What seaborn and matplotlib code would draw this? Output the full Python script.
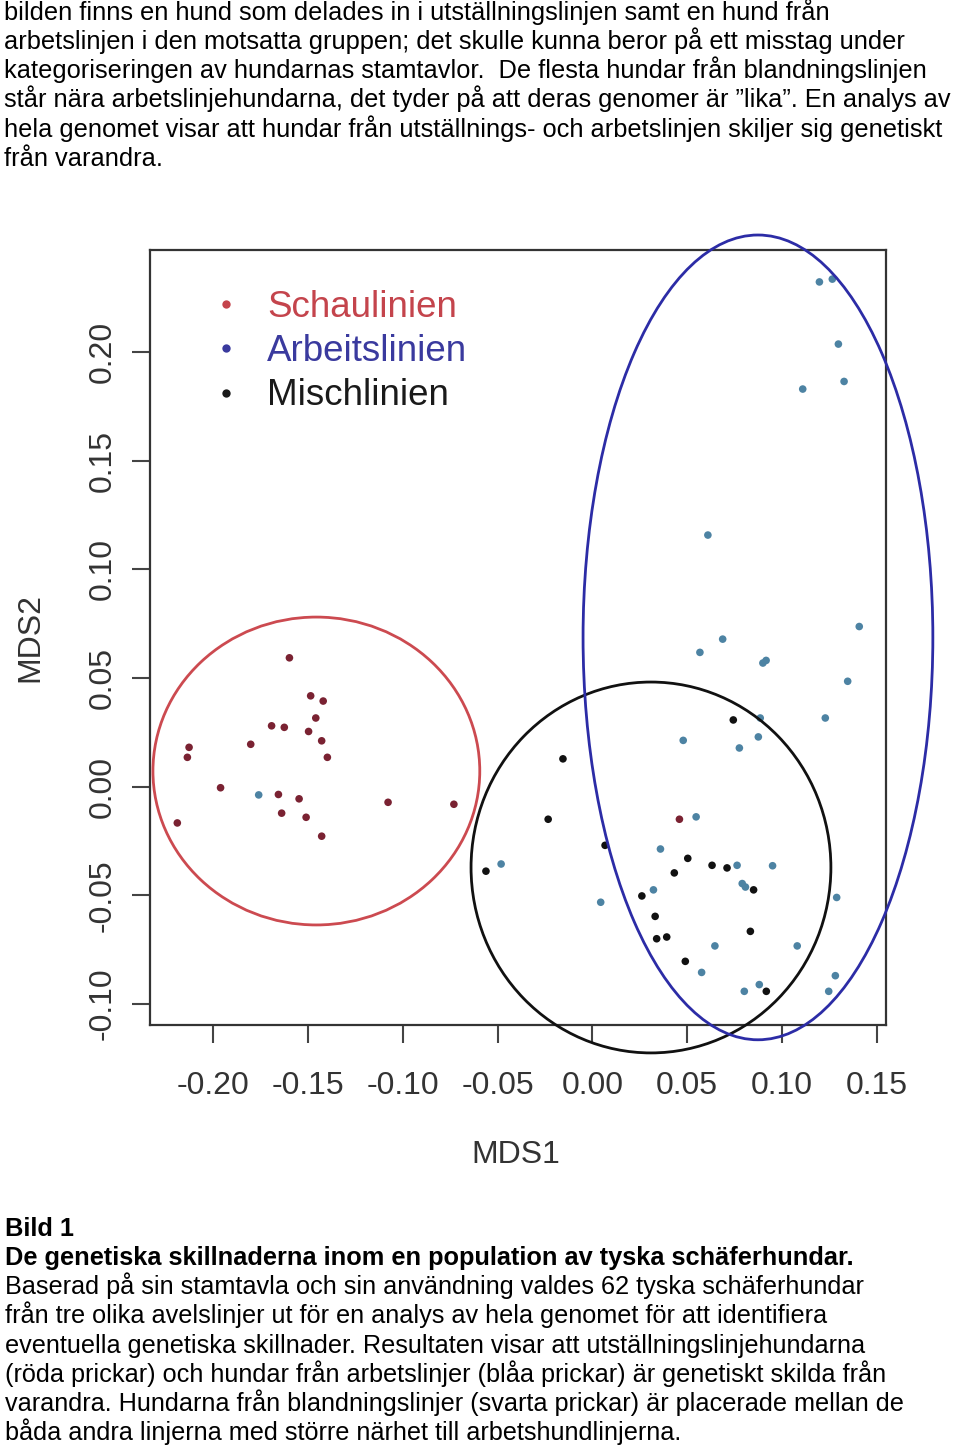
import matplotlib
matplotlib.use("Agg")
import matplotlib.pyplot as plt
import seaborn as sns
import pandas as pd
from matplotlib.patches import Ellipse
from matplotlib.lines import Line2D
from matplotlib import font_manager

# ---------------- data ----------------
groups = ["Schaulinien", "Arbeitslinien", "Mischlinien"]

schau_x = [-0.1597, -0.1485, -0.1419, -0.1458, -0.1691, -0.1624, -0.1496, -0.1427,
           -0.1801, -0.2126, -0.2135, -0.1397, -0.1960, -0.1655, -0.1546, -0.1077,
           -0.0730, -0.1638, -0.1509, -0.2188, -0.1427, 0.0459]
schau_y = [0.0593, 0.0418, 0.0394, 0.0316, 0.0280, 0.0273, 0.0254, 0.0211,
           0.0195, 0.0181, 0.0135, 0.0135, -0.0005, -0.0036, -0.0056, -0.0072,
           -0.0081, -0.0122, -0.0141, -0.0167, -0.0228, -0.0150]

arbeit_x = [-0.1759, -0.0481, 0.0044, 0.0359, 0.0322,
            0.1346, 0.1228, 0.0885, 0.0479, 0.0875, 0.0775, 0.0547, 0.0763, 0.0950,
            0.0790, 0.0807, 0.1288, 0.0646, 0.1080, 0.0576, 0.1281, 0.0801, 0.0880,
            0.1246,
            0.1197, 0.1265, 0.1297, 0.1327, 0.1109, 0.0609, 0.1407, 0.0687, 0.0567,
            0.0899, 0.0916]
arbeit_y = [-0.0038, -0.0356, -0.0532, -0.0287, -0.0475,
            0.0485, 0.0316, 0.0316, 0.0213, 0.0229, 0.0178, -0.0139, -0.0362, -0.0364,
            -0.0446, -0.0462, -0.0510, -0.0733, -0.0733, -0.0855, -0.0870, -0.0942, -0.0911,
            -0.0942,
            0.2323, 0.2336, 0.2037, 0.1865, 0.1830, 0.1158, 0.0737, 0.0679, 0.0618,
            0.0569, 0.0581]

misch_x = [-0.0155, -0.0233, -0.0561, 0.0067, 0.0261, 0.0331, 0.0339, 0.0392, 0.0432,
           0.0743, 0.0503, 0.0631, 0.0710, 0.0850, 0.0833, 0.0490, 0.0917]
misch_y = [0.0128, -0.0150, -0.0389, -0.0270, -0.0503, -0.0597, -0.0700, -0.0692, -0.0397,
           0.0307, -0.0330, -0.0362, -0.0374, -0.0475, -0.0666, -0.0804, -0.0942]

x_ticks = [-0.20, -0.15, -0.10, -0.05, 0.00, 0.05, 0.10, 0.15]
x_tick_labels = ["-0.20", "-0.15", "-0.10", "-0.05", "0.00", "0.05", "0.10", "0.15"]
y_ticks = [-0.10, -0.05, 0.00, 0.05, 0.10, 0.15, 0.20]
y_tick_labels = ["-0.10", "-0.05", "0.00", "0.05", "0.10", "0.15", "0.20"]

top_lines = [
    "bilden finns en hund som delades in i utställningslinjen samt en hund från",
    "arbetslinjen i den motsatta gruppen; det skulle kunna beror på ett misstag under",
    "kategoriseringen av hundarnas stamtavlor.  De flesta hundar från blandningslinjen",
    "står nära arbetslinjehundarna, det tyder på att deras genomer är ”lika”. En analys av",
    "hela genomet visar att hundar från utställnings- och arbetslinjen skiljer sig genetiskt",
    "från varandra.",
]
caption_bold = [
    "Bild 1",
    "De genetiska skillnaderna inom en population av tyska schäferhundar.",
]
caption_lines = [
    "Baserad på sin stamtavla och sin användning valdes 62 tyska schäferhundar",
    "från tre olika avelslinjer ut för en analys av hela genomet för att identifiera",
    "eventuella genetiska skillnader. Resultaten visar att utställningslinjehundarna",
    "(röda prickar) och hundar från arbetslinjer (blåa prickar) är genetiskt skilda från",
    "varandra. Hundarna från blandningslinjer (svarta prickar) är placerade mellan de",
    "båda andra linjerna med större närhet till arbetshundlinjerna.",
]

# ---------------- styling ----------------
sns.set_style("ticks")
plt.rcParams["font.family"] = ["Liberation Sans", "DejaVu Sans"]
names = {f.name for f in font_manager.fontManager.ttflist}
narrow = "Liberation Sans Narrow" if "Liberation Sans Narrow" in names else "Liberation Sans"
axis_fs = 25 if narrow == "Liberation Sans Narrow" else 23

point_colors = {"Schaulinien": "#7a2232", "Arbeitslinien": "#4d83a3", "Mischlinien": "#111111"}
legend_text_colors = {"Schaulinien": "#c4444c", "Arbeitslinien": "#3a3a9e", "Mischlinien": "#1a1a1a"}

df = pd.concat([
    pd.DataFrame({"MDS1": schau_x, "MDS2": schau_y, "group": groups[0]}),
    pd.DataFrame({"MDS1": arbeit_x, "MDS2": arbeit_y, "group": groups[1]}),
    pd.DataFrame({"MDS1": misch_x, "MDS2": misch_y, "group": groups[2]}),
], ignore_index=True)

W, H = 960, 1447
fig = plt.figure(figsize=(W / 100, H / 100), dpi=100)
ax = fig.add_axes([150 / W, 1 - 1025 / H, 736 / W, 775 / H])

sns.scatterplot(data=df, x="MDS1", y="MDS2", hue="group", hue_order=groups,
                palette=point_colors, s=30, linewidth=0, legend=False, ax=ax, zorder=3)

ax.set_xlim(-0.2332, 0.1548)
ax.set_ylim(-0.1097, 0.2470)

# group ellipses (drawn over points, not clipped, like R's xpd)
ell_specs = [
    ((-0.1455, 0.0072), 0.1723, 0.1417, "#cc4a50"),
    ((0.0309, -0.0372), 0.1897, 0.1707, "#111111"),
    ((0.0873, 0.0687), 0.1844, 0.3704, "#2c2ca6"),
]
for (cx, cy), w, h, col in ell_specs:
    e = Ellipse((cx, cy), w, h, fill=False, edgecolor=col, linewidth=2.0,
                clip_on=False, zorder=4)
    ax.add_patch(e)

ax.set_xticks(x_ticks)
ax.set_xticklabels(x_tick_labels, fontfamily=narrow, fontsize=axis_fs, color="#333333")
ax.set_yticks(y_ticks)
ax.set_yticklabels(y_tick_labels, fontfamily=narrow, fontsize=axis_fs, color="#333333",
                   rotation=90, va="center")
ax.tick_params(axis="both", direction="out", length=13, width=1.5, color="#444444")
ax.tick_params(axis="x", pad=20)
ax.tick_params(axis="y", pad=10)
for sp in ax.spines.values():
    sp.set_visible(True)
    sp.set_linewidth(1.6)
    sp.set_color("#333333")

ax.set_xlabel("MDS1", fontfamily=narrow, fontsize=axis_fs, color="#333333")
ax.xaxis.label.set_va("center")
ax.xaxis.set_label_coords((516 - 150) / 736, (1025 - 1155) / 775)
ax.set_ylabel("MDS2", fontfamily=narrow, fontsize=axis_fs, color="#333333")
ax.yaxis.label.set_va("center")
ax.yaxis.label.set_ha("center")
ax.yaxis.set_label_coords((30 - 150) / 736, (1025 - 637) / 775)

handles = [Line2D([], [], marker="o", linestyle="", markersize=6,
                  markerfacecolor=legend_text_colors[g], markeredgewidth=0) for g in groups]
leg = ax.legend(handles, groups, loc="upper left",
                bbox_to_anchor=((208 - 150) / 736, (1025 - 290) / 775),
                frameon=False, fontsize=26.5, handlelength=1.0, handletextpad=0.6,
                labelspacing=0.25, borderpad=0, borderaxespad=0)
for t, g in zip(leg.get_texts(), groups):
    t.set_color(legend_text_colors[g])

# ---------------- surrounding text ----------------
top_baselines = [20, 49, 78, 107.5, 137, 166]
for line, b in zip(top_lines, top_baselines):
    fig.text(4 / W, 1 - b / H, line, fontsize=18.3, va="baseline", ha="left", color="#000000")

cap_baselines = [1236, 1265, 1294.3, 1323.5, 1352.7, 1381.8, 1411, 1440]
for line, b in zip(caption_bold, cap_baselines[:2]):
    fig.text(5 / W, 1 - b / H, line, fontsize=18.3, fontweight="bold", va="baseline",
             ha="left", color="#000000")
for line, b in zip(caption_lines, cap_baselines[2:]):
    fig.text(5 / W, 1 - b / H, line, fontsize=18.2, va="baseline", ha="left", color="#000000")

fig.savefig("out.png", dpi=100)
